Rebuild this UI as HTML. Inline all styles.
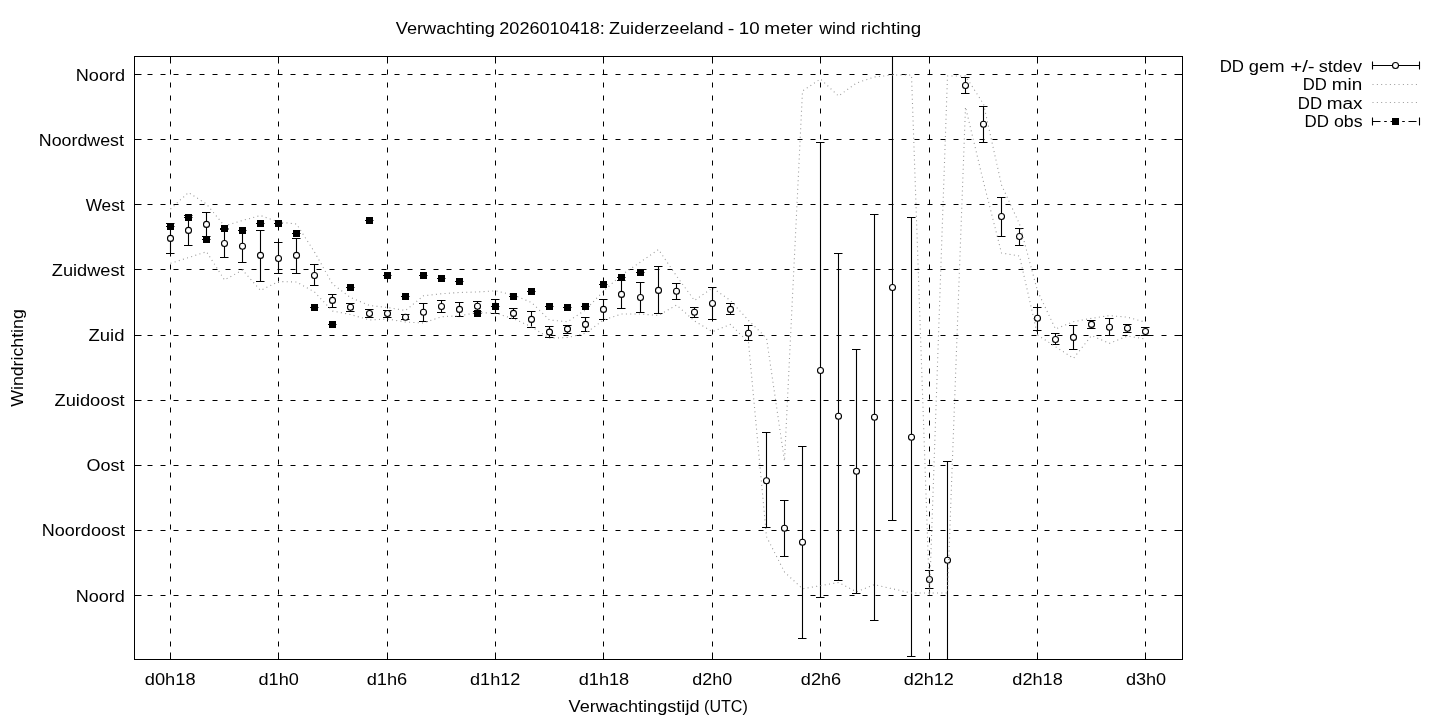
<!DOCTYPE html><html><head><meta charset="utf-8"><style>html,body{margin:0;padding:0;background:#fff;width:1440px;height:720px;overflow:hidden}svg{display:block;will-change:transform}text{font-family:"Liberation Sans",sans-serif;font-size:16px;fill:#000}</style></head><body>
<svg width="1440" height="720" viewBox="0 0 1440 720">
<rect width="1440" height="720" fill="#fff"/>
<path d="M134.5 74.5H1182.5M134.5 139.5H1182.5M134.5 204.5H1182.5M134.5 269.5H1182.5M134.5 335.5H1182.5M134.5 400.5H1182.5M134.5 465.5H1182.5M134.5 530.5H1182.5M134.5 595.5H1182.5" stroke="#000" stroke-width="1" stroke-dasharray="5 8" fill="none"/>
<path d="M170.5 659.5V56.5M278.5 659.5V56.5M387.5 659.5V56.5M495.5 659.5V56.5M603.5 659.5V56.5M712.5 659.5V56.5M820.5 659.5V56.5M929.5 659.5V56.5M1037.5 659.5V56.5M1145.5 659.5V56.5" stroke="#000" stroke-width="1" stroke-dasharray="5 8" fill="none"/>
<path d="M170.5 223.5V253.5M166.0 223.5H174.5M166.0 253.5H174.5M188.5 215.5V245.5M184.0 215.5H192.5M184.0 245.5H192.5M206.5 212.5V236.5M202.0 212.5H210.5M202.0 236.5H210.5M224.5 229.5V257.5M220.0 229.5H228.5M220.0 257.5H228.5M242.5 230.5V262.5M238.0 230.5H246.5M238.0 262.5H246.5M260.5 230.5V281.5M256.0 230.5H264.5M256.0 281.5H264.5M278.5 242.5V273.5M274.0 242.5H282.5M274.0 273.5H282.5M296.5 238.5V273.5M292.0 238.5H300.5M292.0 273.5H300.5M314.5 264.5V285.5M310.0 264.5H318.5M310.0 285.5H318.5M332.5 294.5V307.5M328.0 294.5H336.5M328.0 307.5H336.5M350.5 303.5V311.5M346.0 303.5H354.5M346.0 311.5H354.5M369.5 309.5V317.5M365.0 309.5H373.5M365.0 317.5H373.5M387.5 310.5V317.5M383.0 310.5H391.5M383.0 317.5H391.5M405.5 314.5V319.5M401.0 314.5H409.5M401.0 319.5H409.5M423.5 303.5V321.5M419.0 303.5H427.5M419.0 321.5H427.5M441.5 300.5V312.5M437.0 300.5H445.5M437.0 312.5H445.5M459.5 302.5V316.5M455.0 302.5H463.5M455.0 316.5H463.5M477.5 301.5V311.5M473.0 301.5H481.5M473.0 311.5H481.5M495.5 299.5V313.5M491.0 299.5H499.5M491.0 313.5H499.5M513.5 308.5V318.5M509.0 308.5H517.5M509.0 318.5H517.5M531.5 311.5V327.5M527.0 311.5H535.5M527.0 327.5H535.5M549.5 326.5V337.5M545.0 326.5H553.5M545.0 337.5H553.5M567.5 325.5V333.5M563.0 325.5H571.5M563.0 333.5H571.5M585.5 317.5V331.5M581.0 317.5H589.5M581.0 331.5H589.5M603.5 299.5V319.5M599.0 299.5H607.5M599.0 319.5H607.5M621.5 280.5V308.5M617.0 280.5H625.5M617.0 308.5H625.5M640.5 282.5V312.5M636.0 282.5H644.5M636.0 312.5H644.5M658.5 266.5V313.5M654.0 266.5H662.5M654.0 313.5H662.5M676.5 283.5V299.5M672.0 283.5H680.5M672.0 299.5H680.5M694.5 307.5V317.5M690.0 307.5H698.5M690.0 317.5H698.5M712.5 287.5V319.5M708.0 287.5H716.5M708.0 319.5H716.5M730.5 303.5V314.5M726.0 303.5H734.5M726.0 314.5H734.5M748.5 325.5V340.5M744.0 325.5H752.5M744.0 340.5H752.5M766.5 432.5V527.5M762.0 432.5H770.5M762.0 527.5H770.5M784.5 500.5V556.5M780.0 500.5H788.5M780.0 556.5H788.5M802.5 446.5V638.5M798.0 446.5H806.5M798.0 638.5H806.5M820.5 142.5V597.5M816.0 142.5H824.5M816.0 597.5H824.5M838.5 253.5V580.5M834.0 253.5H842.5M834.0 580.5H842.5M856.5 349.5V593.5M852.0 349.5H860.5M852.0 593.5H860.5M874.5 214.5V620.5M870.0 214.5H878.5M870.0 620.5H878.5M892.5 56.5V520.5M888.0 520.5H896.5M911.5 217.5V656.5M907.0 217.5H915.5M907.0 656.5H915.5M929.5 570.5V588.5M925.0 570.5H933.5M925.0 588.5H933.5M947.5 461.5V659.5M943.0 461.5H951.5M965.5 77.5V93.5M961.0 77.5H969.5M961.0 93.5H969.5M983.5 106.5V142.5M979.0 106.5H987.5M979.0 142.5H987.5M1001.5 197.5V236.5M997.0 197.5H1005.5M997.0 236.5H1005.5M1019.5 228.5V245.5M1015.0 228.5H1023.5M1015.0 245.5H1023.5M1037.5 307.5V330.5M1033.0 307.5H1041.5M1033.0 330.5H1041.5M1055.5 333.5V344.5M1051.0 333.5H1059.5M1051.0 344.5H1059.5M1073.5 325.5V349.5M1069.0 325.5H1077.5M1069.0 349.5H1077.5M1091.5 320.5V328.5M1087.0 320.5H1095.5M1087.0 328.5H1095.5M1109.5 318.5V335.5M1105.0 318.5H1113.5M1105.0 335.5H1113.5M1127.5 324.5V332.5M1123.0 324.5H1131.5M1123.0 332.5H1131.5M1145.5 327.5V335.5M1141.0 327.5H1149.5M1141.0 335.5H1149.5M166.0 226.5H174.5M184.0 217.5H192.5M202.0 239.5H210.5M220.0 228.5H228.5M238.0 230.5H246.5M256.0 223.5H264.5M274.0 223.5H282.5M292.0 233.5H300.5M310.0 307.5H318.5M328.0 324.5H336.5M346.0 287.5H354.5M365.0 220.5H373.5M383.0 275.5H391.5M401.0 296.5H409.5M419.0 275.5H427.5M437.0 278.5H445.5M455.0 281.5H463.5M473.0 313.5H481.5M491.0 306.5H499.5M509.0 296.5H517.5M527.0 291.5H535.5M545.0 306.5H553.5M563.0 307.5H571.5M581.0 306.5H589.5M599.0 284.5H607.5M617.0 277.5H625.5M636.0 272.5H644.5" stroke="#000" stroke-width="1.1" fill="none"/>
<circle cx="170.5" cy="238.4" r="3" fill="#fff" stroke="#000" stroke-width="1.1"/>
<circle cx="188.5" cy="230.4" r="3" fill="#fff" stroke="#000" stroke-width="1.1"/>
<circle cx="206.5" cy="224.4" r="3" fill="#fff" stroke="#000" stroke-width="1.1"/>
<circle cx="224.5" cy="243.5" r="3" fill="#fff" stroke="#000" stroke-width="1.1"/>
<circle cx="242.5" cy="246.2" r="3" fill="#fff" stroke="#000" stroke-width="1.1"/>
<circle cx="260.5" cy="255.4" r="3" fill="#fff" stroke="#000" stroke-width="1.1"/>
<circle cx="278.5" cy="258.5" r="3" fill="#fff" stroke="#000" stroke-width="1.1"/>
<circle cx="296.5" cy="255.4" r="3" fill="#fff" stroke="#000" stroke-width="1.1"/>
<circle cx="314.5" cy="275.5" r="3" fill="#fff" stroke="#000" stroke-width="1.1"/>
<circle cx="332.5" cy="300.4" r="3" fill="#fff" stroke="#000" stroke-width="1.1"/>
<circle cx="350.5" cy="307.2" r="3" fill="#fff" stroke="#000" stroke-width="1.1"/>
<circle cx="369.5" cy="313.5" r="3" fill="#fff" stroke="#000" stroke-width="1.1"/>
<circle cx="387.5" cy="313.5" r="3" fill="#fff" stroke="#000" stroke-width="1.1"/>
<circle cx="405.5" cy="317.2" r="3" fill="#fff" stroke="#000" stroke-width="1.1"/>
<circle cx="423.5" cy="312.2" r="3" fill="#fff" stroke="#000" stroke-width="1.1"/>
<circle cx="441.5" cy="306.5" r="3" fill="#fff" stroke="#000" stroke-width="1.1"/>
<circle cx="459.5" cy="309.4" r="3" fill="#fff" stroke="#000" stroke-width="1.1"/>
<circle cx="477.5" cy="306.2" r="3" fill="#fff" stroke="#000" stroke-width="1.1"/>
<circle cx="495.5" cy="306.4" r="3" fill="#fff" stroke="#000" stroke-width="1.1"/>
<circle cx="513.5" cy="313.4" r="3" fill="#fff" stroke="#000" stroke-width="1.1"/>
<circle cx="531.5" cy="319.4" r="3" fill="#fff" stroke="#000" stroke-width="1.1"/>
<circle cx="549.5" cy="332.1" r="3" fill="#fff" stroke="#000" stroke-width="1.1"/>
<circle cx="567.5" cy="329.1" r="3" fill="#fff" stroke="#000" stroke-width="1.1"/>
<circle cx="585.5" cy="324.4" r="3" fill="#fff" stroke="#000" stroke-width="1.1"/>
<circle cx="603.5" cy="309.4" r="3" fill="#fff" stroke="#000" stroke-width="1.1"/>
<circle cx="621.5" cy="294.4" r="3" fill="#fff" stroke="#000" stroke-width="1.1"/>
<circle cx="640.5" cy="297.5" r="3" fill="#fff" stroke="#000" stroke-width="1.1"/>
<circle cx="658.5" cy="290.4" r="3" fill="#fff" stroke="#000" stroke-width="1.1"/>
<circle cx="676.5" cy="291.2" r="3" fill="#fff" stroke="#000" stroke-width="1.1"/>
<circle cx="694.5" cy="312.2" r="3" fill="#fff" stroke="#000" stroke-width="1.1"/>
<circle cx="712.5" cy="303.5" r="3" fill="#fff" stroke="#000" stroke-width="1.1"/>
<circle cx="730.5" cy="309.4" r="3" fill="#fff" stroke="#000" stroke-width="1.1"/>
<circle cx="748.5" cy="333.2" r="3" fill="#fff" stroke="#000" stroke-width="1.1"/>
<circle cx="766.5" cy="480.8" r="3" fill="#fff" stroke="#000" stroke-width="1.1"/>
<circle cx="784.5" cy="528.2" r="3" fill="#fff" stroke="#000" stroke-width="1.1"/>
<circle cx="802.5" cy="542.2" r="3" fill="#fff" stroke="#000" stroke-width="1.1"/>
<circle cx="820.5" cy="370.5" r="3" fill="#fff" stroke="#000" stroke-width="1.1"/>
<circle cx="838.5" cy="416.2" r="3" fill="#fff" stroke="#000" stroke-width="1.1"/>
<circle cx="856.5" cy="471.2" r="3" fill="#fff" stroke="#000" stroke-width="1.1"/>
<circle cx="874.5" cy="417.2" r="3" fill="#fff" stroke="#000" stroke-width="1.1"/>
<circle cx="892.5" cy="287.5" r="3" fill="#fff" stroke="#000" stroke-width="1.1"/>
<circle cx="911.5" cy="437.2" r="3" fill="#fff" stroke="#000" stroke-width="1.1"/>
<circle cx="929.5" cy="579.5" r="3" fill="#fff" stroke="#000" stroke-width="1.1"/>
<circle cx="947.5" cy="560.2" r="3" fill="#fff" stroke="#000" stroke-width="1.1"/>
<circle cx="965.5" cy="85.5" r="3" fill="#fff" stroke="#000" stroke-width="1.1"/>
<circle cx="983.5" cy="124.2" r="3" fill="#fff" stroke="#000" stroke-width="1.1"/>
<circle cx="1001.5" cy="216.5" r="3" fill="#fff" stroke="#000" stroke-width="1.1"/>
<circle cx="1019.5" cy="236.5" r="3" fill="#fff" stroke="#000" stroke-width="1.1"/>
<circle cx="1037.5" cy="318.3" r="3" fill="#fff" stroke="#000" stroke-width="1.1"/>
<circle cx="1055.5" cy="339.5" r="3" fill="#fff" stroke="#000" stroke-width="1.1"/>
<circle cx="1073.5" cy="337.4" r="3" fill="#fff" stroke="#000" stroke-width="1.1"/>
<circle cx="1091.5" cy="324.4" r="3" fill="#fff" stroke="#000" stroke-width="1.1"/>
<circle cx="1109.5" cy="327.3" r="3" fill="#fff" stroke="#000" stroke-width="1.1"/>
<circle cx="1127.5" cy="328.3" r="3" fill="#fff" stroke="#000" stroke-width="1.1"/>
<circle cx="1145.5" cy="331.5" r="3" fill="#fff" stroke="#000" stroke-width="1.1"/>
<g clip-path="url(#clip)">
<path d="M170.5 209.0 L188.5 192.5 L206.5 204.0 L224.5 226.0 L242.5 220.5 L260.5 215.5 L278.5 222.0 L296.5 224.0 L314.5 252.0 L332.5 284.0 L350.5 297.5 L369.5 305.5 L387.5 307.5 L405.5 310.5 L423.5 295.8 L441.5 293.7 L459.5 292.5 L477.5 292.0 L495.5 290.8 L513.5 295.0 L531.5 302.5 L549.5 320.0 L567.5 321.7 L585.5 310.0 L603.5 291.0 L621.5 275.0 L640.5 262.0 L658.5 249.5 L676.5 276.0 L694.5 300.5 L712.5 288.0 L730.5 300.5 L748.5 320.5 L766.5 338.0 L784.5 461.0 L802.5 91.0 L820.5 79.0 L838.5 96.0 L856.5 83.0 L874.5 77.0 L892.5 75.0 L911.5 75.0 L929.5 595.0 L947.5 76.0 L965.5 76.0 L983.5 104.0 L1001.5 185.0 L1019.5 224.0 L1037.5 291.0 L1055.5 329.0 L1073.5 321.7 L1091.5 318.3 L1109.5 315.6 L1127.5 317.2 L1145.5 322.2" stroke="#999" stroke-width="1.1" stroke-dasharray="1 3.34" fill="none"/>
<path d="M170.5 263.3 L188.5 257.6 L206.5 251.7 L224.5 280.0 L242.5 270.0 L260.5 290.5 L278.5 281.5 L296.5 282.0 L314.5 292.0 L332.5 311.0 L350.5 314.5 L369.5 320.0 L387.5 319.0 L405.5 322.0 L423.5 323.0 L441.5 316.7 L459.5 315.8 L477.5 312.5 L495.5 313.3 L513.5 318.7 L531.5 326.7 L549.5 338.3 L567.5 337.5 L585.5 333.3 L603.5 320.0 L621.5 314.0 L640.5 314.0 L658.5 315.5 L676.5 305.0 L694.5 321.0 L712.5 331.7 L730.5 324.4 L748.5 342.5 L766.5 536.7 L784.5 572.0 L802.5 588.8 L820.5 585.6 L838.5 582.5 L856.5 591.9 L874.5 584.6 L892.5 588.8 L911.5 593.0 L929.5 593.0 L947.5 593.0 L965.5 107.0 L983.5 182.0 L1001.5 253.0 L1019.5 256.0 L1037.5 335.0 L1055.5 346.7 L1073.5 358.3 L1091.5 335.6 L1109.5 343.3 L1127.5 336.0 L1145.5 339.0" stroke="#999" stroke-width="1.1" stroke-dasharray="1 3.34" fill="none"/>
</g>
<clipPath id="clip"><rect x="134" y="56" width="1049" height="604"/></clipPath>
<path d="M167.0 223.0h7v7h-7zM185.0 214.0h7v7h-7zM203.0 236.0h7v7h-7zM221.0 225.0h7v7h-7zM239.0 227.0h7v7h-7zM257.0 220.0h7v7h-7zM275.0 220.0h7v7h-7zM293.0 230.0h7v7h-7zM311.0 304.0h7v7h-7zM329.0 321.0h7v7h-7zM347.0 284.0h7v7h-7zM366.0 217.0h7v7h-7zM384.0 272.0h7v7h-7zM402.0 293.0h7v7h-7zM420.0 272.0h7v7h-7zM438.0 275.0h7v7h-7zM456.0 278.0h7v7h-7zM474.0 310.0h7v7h-7zM492.0 303.0h7v7h-7zM510.0 293.0h7v7h-7zM528.0 288.0h7v7h-7zM546.0 303.0h7v7h-7zM564.0 304.0h7v7h-7zM582.0 303.0h7v7h-7zM600.0 281.0h7v7h-7zM618.0 274.0h7v7h-7zM637.0 269.0h7v7h-7z" fill="#000"/>
<path d="M134.5 74.5h7M1182.5 74.5h-7M134.5 139.5h7M1182.5 139.5h-7M134.5 204.5h7M1182.5 204.5h-7M134.5 269.5h7M1182.5 269.5h-7M134.5 335.5h7M1182.5 335.5h-7M134.5 400.5h7M1182.5 400.5h-7M134.5 465.5h7M1182.5 465.5h-7M134.5 530.5h7M1182.5 530.5h-7M134.5 595.5h7M1182.5 595.5h-7M170.5 56.5v7M170.5 659.5v-7M278.5 56.5v7M278.5 659.5v-7M387.5 56.5v7M387.5 659.5v-7M495.5 56.5v7M495.5 659.5v-7M603.5 56.5v7M603.5 659.5v-7M712.5 56.5v7M712.5 659.5v-7M820.5 56.5v7M820.5 659.5v-7M929.5 56.5v7M929.5 659.5v-7M1037.5 56.5v7M1037.5 659.5v-7M1145.5 56.5v7M1145.5 659.5v-7" stroke="#000" stroke-width="1" fill="none"/>
<rect x="134.5" y="56.5" width="1048" height="603" fill="none" stroke="#000" stroke-width="1"/>
<text x="395.84" y="34.4" textLength="99.07" lengthAdjust="spacingAndGlyphs">Verwachting</text>
<text x="499.27" y="34.4" textLength="105.61" lengthAdjust="spacingAndGlyphs">2026010418:</text>
<text x="609.00" y="34.4" textLength="114.65" lengthAdjust="spacingAndGlyphs">Zuiderzeeland</text>
<text x="727.89" y="34.4" textLength="6.61" lengthAdjust="spacingAndGlyphs">-</text>
<text x="738.80" y="34.4" textLength="20.82" lengthAdjust="spacingAndGlyphs">10</text>
<text x="764.37" y="34.4" textLength="48.43" lengthAdjust="spacingAndGlyphs">meter</text>
<text x="819.25" y="34.4" textLength="36.47" lengthAdjust="spacingAndGlyphs">wind</text>
<text x="860.72" y="34.4" textLength="60.44" lengthAdjust="spacingAndGlyphs">richting</text>
<text x="568.59" y="712.2" textLength="130.91" lengthAdjust="spacingAndGlyphs">Verwachtingstijd</text>
<text x="704.10" y="712.2" textLength="43.66" lengthAdjust="spacingAndGlyphs">(UTC)</text>
<text x="1219.73" y="71.5" textLength="24.30" lengthAdjust="spacingAndGlyphs">DD</text>
<text x="1248.89" y="71.5" textLength="35.69" lengthAdjust="spacingAndGlyphs">gem</text>
<text x="1290.25" y="71.5" textLength="24.38" lengthAdjust="spacingAndGlyphs">+/-</text>
<text x="1318.73" y="71.5" textLength="43.25" lengthAdjust="spacingAndGlyphs">stdev</text>
<text x="1302.74" y="90.1" textLength="24.08" lengthAdjust="spacingAndGlyphs">DD</text>
<text x="1331.89" y="90.1" textLength="30.41" lengthAdjust="spacingAndGlyphs">min</text>
<text x="1297.83" y="108.8" textLength="24.25" lengthAdjust="spacingAndGlyphs">DD</text>
<text x="1326.84" y="108.8" textLength="35.72" lengthAdjust="spacingAndGlyphs">max</text>
<text x="1304.62" y="126.8" textLength="24.41" lengthAdjust="spacingAndGlyphs">DD</text>
<text x="1334.00" y="126.8" textLength="28.61" lengthAdjust="spacingAndGlyphs">obs</text>
<text x="75.77" y="80.6" textLength="49.33" lengthAdjust="spacingAndGlyphs">Noord</text>
<text x="38.78" y="145.6" textLength="85.16" lengthAdjust="spacingAndGlyphs">Noordwest</text>
<text x="85.68" y="211.1" textLength="38.93" lengthAdjust="spacingAndGlyphs">West</text>
<text x="51.79" y="276" textLength="72.85" lengthAdjust="spacingAndGlyphs">Zuidwest</text>
<text x="88.53" y="340.7" textLength="35.91" lengthAdjust="spacingAndGlyphs">Zuid</text>
<text x="54.54" y="406.1" textLength="70.09" lengthAdjust="spacingAndGlyphs">Zuidoost</text>
<text x="86.58" y="470.6" textLength="37.96" lengthAdjust="spacingAndGlyphs">Oost</text>
<text x="41.78" y="535.7" textLength="83.21" lengthAdjust="spacingAndGlyphs">Noordoost</text>
<text x="75.75" y="601.6" textLength="49.16" lengthAdjust="spacingAndGlyphs">Noord</text>
<text x="144.83" y="684.6" textLength="50.75" lengthAdjust="spacingAndGlyphs">d0h18</text>
<text x="258.52" y="684.6" textLength="40.33" lengthAdjust="spacingAndGlyphs">d1h0</text>
<text x="366.66" y="684.6" textLength="40.59" lengthAdjust="spacingAndGlyphs">d1h6</text>
<text x="470.00" y="684.6" textLength="50.33" lengthAdjust="spacingAndGlyphs">d1h12</text>
<text x="578.66" y="684.6" textLength="50.57" lengthAdjust="spacingAndGlyphs">d1h18</text>
<text x="692.39" y="684.6" textLength="39.87" lengthAdjust="spacingAndGlyphs">d2h0</text>
<text x="800.81" y="684.6" textLength="40.32" lengthAdjust="spacingAndGlyphs">d2h6</text>
<text x="903.68" y="684.6" textLength="50.11" lengthAdjust="spacingAndGlyphs">d2h12</text>
<text x="1012.35" y="684.6" textLength="50.41" lengthAdjust="spacingAndGlyphs">d2h18</text>
<text x="1125.92" y="684.6" textLength="40.27" lengthAdjust="spacingAndGlyphs">d3h0</text>
<text transform="translate(22.8 358) rotate(-90)" x="0" y="0" text-anchor="middle" textLength="97.5" lengthAdjust="spacingAndGlyphs">Windrichting</text>
<path d="M1372.5 65.5H1419.5M1372.5 61.5V69.5M1419.5 61.5V69.5" stroke="#000" stroke-width="1.1" fill="none"/>
<circle cx="1395.5" cy="65.5" r="3" fill="#fff" stroke="#000" stroke-width="1.1"/>
<path d="M1372.5 84.5H1419.5M1372.5 102.5H1419.5" stroke="#999" stroke-width="1.1" stroke-dasharray="1 3.34" fill="none"/>
<path d="M1372.5 121.5H1419.5" stroke="#000" stroke-width="1.1" stroke-dasharray="8 3.7 2.6 3.7" fill="none"/>
<path d="M1372.5 117.5V125.5M1419.5 117.5V125.5" stroke="#000" stroke-width="1.1" fill="none"/>
<rect x="1392" y="118" width="7" height="7" fill="#000"/>
</svg></body></html>
